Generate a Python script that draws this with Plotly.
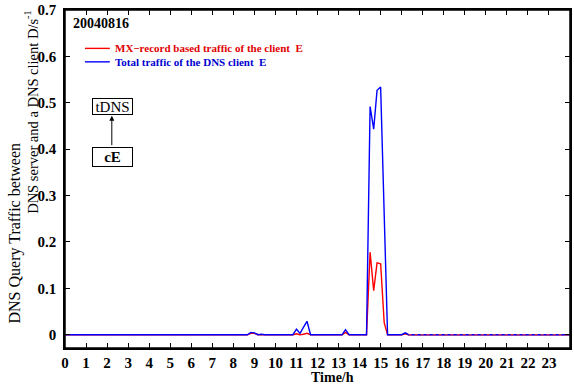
import plotly.graph_objects as go

# ---- data ----
time_h = [0, 8.67, 8.83, 9.0, 9.17, 9.33, 9.5, 9.67, 9.83, 10.0, 10.17, 10.83, 11.0, 11.17,
          11.33, 11.5, 11.67, 11.83, 12.0, 12.17, 13.17, 13.33, 13.5, 14.33, 14.5, 14.67,
          14.83, 15.0, 15.17, 15.33, 16.0, 16.17, 16.33, 24]
total_traffic = [0, 0, 0.005, 0.004, 0, 0.001, 0, 0, 0.001, 0, 0, 0, 0.012, 0.003,
                 0.016, 0.029, 0, 0, 0.001, 0, 0, 0.011, 0, 0, 0.492, 0.443,
                 0.527, 0.534, 0.26, 0, 0, 0.004, 0, 0]
mx_traffic = [0, 0, 0.003, 0.003, 0, 0, 0, 0, 0, 0, 0, 0, 0.002, 0,
              0.001, 0.003, 0, 0, 0, 0, 0, 0.005, 0, 0, 0.178, 0.095,
              0.155, 0.153, 0.026, 0, 0, 0.002, 0, 0]
x_ticks = list(range(0, 24))
y_ticks = [0, 0.1, 0.2, 0.3, 0.4, 0.5, 0.6, 0.7]
y_ticklabels = ["0", "0.1", "0.2", "0.3", "0.4", "0.5", "0.6", "0.7"]
x_range = [0, 24]
y_range = [-0.0286, 0.7]

W, H = 574, 386
L, R, T, B = 65, 2, 9, 38
pw, ph = W - L - R, H - T - B

def px(x):
    return (x - L) / pw

def py(y):
    return (H - B - y) / ph

SERIF = "Liberation Serif"

fig = go.Figure()
fig.add_trace(go.Scatter(x=time_h, y=mx_traffic, mode="lines",
                         line=dict(color="#ff0000", width=1.4), showlegend=False))
fig.add_trace(go.Scatter(x=time_h, y=total_traffic, mode="lines",
                         line=dict(color="#0000ff", width=1.4), showlegend=False))
tail_t = [t for t in time_h if t >= 16.33]
tail_v = [v for t, v in zip(time_h, mx_traffic) if t >= 16.33]
fig.add_trace(go.Scatter(x=tail_t, y=tail_v, mode="lines",
                         line=dict(color="#ff4040", width=1.2, dash="3px,3px"), showlegend=False))

axis_common = dict(showline=True, linecolor="black", linewidth=1.5, mirror="allticks",
                   ticks="inside", ticklen=5, tickcolor="black", tickwidth=1, showgrid=False,
                   zeroline=False, ticklabeloverflow="allow",
                   tickfont=dict(family=SERIF, size=15, color="black"))

fig.update_layout(
    xaxis=dict(range=x_range, tickvals=x_ticks, ticktext=[f"<b>{v}</b>" for v in x_ticks],
               **axis_common),
    yaxis=dict(range=y_range, tickvals=y_ticks,
               ticktext=[f"<b>{v}</b>" for v in y_ticklabels],
               ticklabelstandoff=4, **axis_common),
    xaxis2=dict(range=x_range, tickvals=x_ticks, overlaying="x", side="top",
                ticks="inside", ticklen=5, tickcolor="black", showticklabels=False,
                showgrid=False, zeroline=False, showline=True, linecolor="black",
                linewidth=1.5),
    yaxis2=dict(range=y_range, tickvals=y_ticks, overlaying="y", side="right",
                ticks="inside", ticklen=5, tickcolor="black", showticklabels=False,
                showgrid=False, zeroline=False, showline=True, linecolor="black",
                linewidth=1.5),
)
fig.add_trace(go.Scatter(x=[x_range[0]], y=[y_range[0]], xaxis="x2", yaxis="y2",
                         mode="markers", marker=dict(opacity=0), showlegend=False,
                         hoverinfo="skip"))

ann = []
ann.append(dict(x=px(334), y=py(378), xref="paper", yref="paper", text="<b>Time/h</b>",
                showarrow=False, font=dict(family=SERIF, size=14, color="black"),
                xanchor="center", yanchor="middle"))
ann.append(dict(x=px(15), y=py(233), xref="paper", yref="paper",
                text="DNS Query Traffic between", textangle=-90, showarrow=False,
                font=dict(family=SERIF, size=16, color="black"),
                xanchor="center", yanchor="middle"))
ann.append(dict(x=px(31), y=py(112), xref="paper", yref="paper",
                text="DNS server and a DNS client D/s<sup>-1</sup>", textangle=-90,
                showarrow=False, font=dict(family=SERIF, size=14.5, color="black"),
                xanchor="center", yanchor="middle"))
ann.append(dict(x=px(71), y=py(23), xref="paper", yref="paper", text="<b>20040816</b>",
                showarrow=False, font=dict(family=SERIF, size=14, color="black"),
                xanchor="left", yanchor="middle"))
ann.append(dict(x=px(113), y=py(47.5), xref="paper", yref="paper",
                text="<b>MX\u2212record based traffic of the client  E</b>",
                showarrow=False, font=dict(family=SERIF, size=11, color="#e00000"),
                xanchor="left", yanchor="middle"))
ann.append(dict(x=px(113), y=py(61), xref="paper", yref="paper",
                text="<b>Total traffic of the DNS client  E</b>",
                showarrow=False, font=dict(family=SERIF, size=11, color="#0000d0"),
                xanchor="left", yanchor="middle"))
ann.append(dict(x=px(112.5), y=py(105.5), xref="paper", yref="paper", text="tDNS",
                showarrow=False, font=dict(family=SERIF, size=15, color="black"),
                bordercolor="black", borderwidth=1, borderpad=0, width=39, height=15,
                bgcolor="white", xanchor="center", yanchor="middle"))
ann.append(dict(x=px(112.5), y=py(156.5), xref="paper", yref="paper", text="<b>cE</b>",
                showarrow=False, font=dict(family=SERIF, size=15, color="black"),
                bordercolor="black", borderwidth=1, borderpad=0, width=39, height=18,
                bgcolor="white", xanchor="center", yanchor="middle"))
ann.append(dict(x=px(112), y=py(115), xref="paper", yref="paper", text="",
                showarrow=True, ax=0, ay=31, arrowhead=2, arrowsize=1, arrowwidth=1,
                arrowcolor="black"))

shapes = [
    dict(type="rect", xref="paper", yref="paper", x0=0, x1=1, y0=0, y1=1,
         line=dict(color="black", width=1.5), layer="above"),
    dict(type="line", xref="paper", yref="paper", x0=px(85), x1=px(110),
         y0=py(47.5), y1=py(47.5), line=dict(color="#ff0000", width=1.4)),
    dict(type="line", xref="paper", yref="paper", x0=px(85), x1=px(110),
         y0=py(61), y1=py(61), line=dict(color="#0000ff", width=1.4)),
]

fig.update_layout(width=W, height=H, margin=dict(l=L, r=R, t=T, b=B),
                  paper_bgcolor="white", plot_bgcolor="white",
                  annotations=ann, shapes=shapes, showlegend=False)

fig.write_html("out.html", config={"displayModeBar": False},
               post_script="document.body.style.margin='0';document.body.style.overflow='hidden';")
